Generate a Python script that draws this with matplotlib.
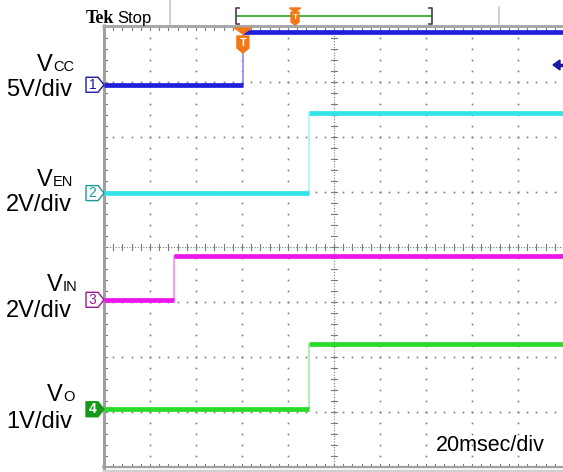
import matplotlib.pyplot as plt
from matplotlib.patches import Polygon

W, H = 563, 472

# scope channels: time in ms (20 ms/div), levels in divisions from screen bottom
channels = ['1', '2', '3', '4']
names = ['CC', 'EN', 'IN', 'O']
scales = ['5V/div', '2V/div', '2V/div', '1V/div']
step_ms = [60.4, 89.1, 30.4, 89.1]
low_div = [6.95, 4.98, 3.04, 1.05]
high_div = [7.91, 6.44, 3.84, 2.24]
end_ms = 200
trig_level_div = 7.31
trig_pos_ms = 60.4

colors = ['#2020dc', '#30e4ea', '#ee14ee', '#28dc28']
edge_colors = ['#8c8cff', '#a8f4f8', '#f08cf0', '#a0eea0']
box_colors = ['#1c1c9c', '#189a9a', '#9a189a', '#189a18']

plt.rcParams['font.family'] = ['Liberation Sans', 'DejaVu Sans']

fig = plt.figure(figsize=(W / 100, H / 100), dpi=100)
fig.patch.set_facecolor('white')
ax = fig.add_axes([104 / W, 5 / H, 460 / W, 440 / H])
ax.set_xlim(0, 200)
ax.set_ylim(0, 8)
ax.axis('off')


def X(px):
    return (px - 104) / 46 * 20


def Y(py):
    return (467 - py) / 55


grid_c = '#7a7a7a'
# dotted graticule
for i in range(1, 10):
    if i == 5:
        continue
    ax.plot([20 * i] * 39, [k / 5 for k in range(1, 40)], ls='none',
            marker='s', ms=1.2, mew=0, color=grid_c)
for j in range(1, 8):
    if j == 4:
        continue
    ax.plot([4 * k for k in range(1, 50)], [j] * 49, ls='none',
            marker='s', ms=1.2, mew=0, color=grid_c)

# centre crosshair with minor ticks
ax.plot([100, 100], [0, 8], ls=(0, (1, 1.5)), lw=0.8, color=grid_c)
ax.plot([0, 200], [4, 4], ls=(0, (1, 1.5)), lw=0.8, color=grid_c)
dx, dy = 3 / 46 * 20, 3 / 55
for k in range(1, 40):
    ax.plot([100 - dx, 100 + dx], [k / 5, k / 5], lw=0.8, color=grid_c)
for k in range(1, 50):
    ax.plot([4 * k, 4 * k], [4 - dy, 4 + dy], lw=0.8, color=grid_c)

# border ticks
for k in range(1, 40):
    ax.plot([0, dx], [k / 5, k / 5], lw=0.8, color=grid_c)
for k in range(1, 50):
    ax.plot([4 * k, 4 * k], [0, dy], lw=0.8, color=grid_c)
    ax.plot([4 * k, 4 * k], [8, 8 - dy], lw=0.8, color=grid_c)

# frame
ax.plot([0, 0], [Y(472), Y(24)], lw=2.2, color='#a0a0a0', clip_on=False,
        solid_capstyle='butt')
ax.plot([X(102), X(563)], [Y(25.5), Y(25.5)], lw=2.2, color='#a8a8a8',
        clip_on=False, solid_capstyle='butt')
ax.plot([X(102), X(563)], [0, 0], lw=1.6, color='#a0a0a0', clip_on=False,
        solid_capstyle='butt')
ax.plot([X(102), X(563)], [Y(470.5), Y(470.5)], lw=2.5, color='#d0d0d0',
        clip_on=False, solid_capstyle='butt')

# traces
for i in range(4):
    t, lo, hi = step_ms[i], low_div[i], high_div[i]
    ax.plot([t, t], [lo, hi], lw=1.2, color=edge_colors[i], zorder=4)
    ax.plot([0, t], [lo, lo], lw=3.4, color=colors[i], zorder=5,
            solid_capstyle='butt')
    ax.plot([t, end_ms], [hi, hi], lw=3.4, color=colors[i], zorder=5,
            solid_capstyle='butt')

# channel ground markers
bh = 7.5 / 55
for i in range(4):
    y = low_div[i]
    pts = [(X(86), y - bh), (X(98), y - bh), (X(104), y), (X(98), y + bh),
           (X(86), y + bh)]
    filled = i == 3
    ax.add_patch(Polygon(pts, closed=True, clip_on=False, zorder=6,
                         facecolor=box_colors[i] if filled else 'white',
                         edgecolor=box_colors[i], lw=1))
    ax.text(X(92.5), y, channels[i], ha='center', va='center', fontsize=10,
            color='white' if filled else box_colors[i], zorder=7,
            fontweight='bold' if filled else 'normal')

# trigger level arrow
ax.add_patch(Polygon([(X(553), trig_level_div), (X(560), trig_level_div + 5 / 55),
                      (X(560), trig_level_div - 5 / 55)], closed=True,
                     clip_on=False, color='#1a1aa8', zorder=6))
ax.plot([X(558), X(563)], [trig_level_div, trig_level_div], lw=2.5,
        color='#1a1aa8', clip_on=False, zorder=6)

# trigger position marker on screen
orange = '#f07818'
tx = trig_pos_ms
hw = 6 / 46 * 20
ax.add_patch(Polygon([(tx - 1.4 * hw, Y(28)), (tx + 1.4 * hw, Y(28)), (tx, Y(34))],
                     closed=True, clip_on=False, color=orange, zorder=8))
ax.add_patch(Polygon([(tx - hw, Y(36)), (tx + hw, Y(36)), (tx + hw, Y(48)),
                      (tx, Y(53)), (tx - hw, Y(48))], closed=True,
                     clip_on=False, color=orange, zorder=8))
ax.text(tx, Y(43), 'T', ha='center', va='center', color='white', fontsize=8,
        fontweight='bold', zorder=9)

# top status bar
fig.text(86 / W, 1 - 23 / H, 'Tek', fontsize=13, fontweight='bold',
         family='Liberation Serif', va='baseline', ha='left')
fig.text(117 / W, 1 - 23 / H, 'Stop', fontsize=12, va='baseline', ha='left')
ax.plot([X(170), X(170)], [Y(0), Y(24)], lw=1.2, color='#c8c8c8', clip_on=False)
ax.plot([X(499), X(499)], [Y(7), Y(24)], lw=1.2, color='#c8c8c8', clip_on=False)
ax.plot([X(237), X(432)], [Y(16), Y(16)], lw=1.3, color='#30b030', clip_on=False)
for bx, d in [(236, 1), (432, -1)]:
    ax.plot([X(bx + 3 * d), X(bx), X(bx), X(bx + 3 * d)],
            [Y(8), Y(8), Y(24), Y(24)], lw=1.2, color='#404040', clip_on=False)
mx = X(295)
mw = 4 / 46 * 20
ax.add_patch(Polygon([(mx - 1.4 * mw, Y(8)), (mx + 1.4 * mw, Y(8)), (mx, Y(12))],
                     closed=True, clip_on=False, color=orange, zorder=8))
ax.add_patch(Polygon([(mx - mw, Y(12)), (mx + mw, Y(12)), (mx + mw, Y(22)),
                      (mx, Y(25)), (mx - mw, Y(22))], closed=True,
                     clip_on=False, color=orange, zorder=8))
ax.text(mx, Y(17), 'T', ha='center', va='center', color='white', fontsize=6,
        fontweight='bold', zorder=9)

# channel labels
v_right = [53, 53, 63, 63]
v_base = [71, 186, 291, 401]
s_base = [96, 211, 317, 428]
for i in range(4):
    fig.text(v_right[i] / W, 1 - v_base[i] / H, 'V', fontsize=17,
             ha='right', va='baseline')
    fig.text(v_right[i] / W, 1 - v_base[i] / H, names[i], fontsize=10.5,
             ha='left', va='baseline')
    fig.text(72 / W, 1 - s_base[i] / H, scales[i], fontsize=17,
             ha='right', va='baseline')

fig.text(545 / W, 1 - 451 / H, '20msec/div', fontsize=15.5, ha='right',
         va='baseline')

fig.savefig('out.png', dpi=100)
